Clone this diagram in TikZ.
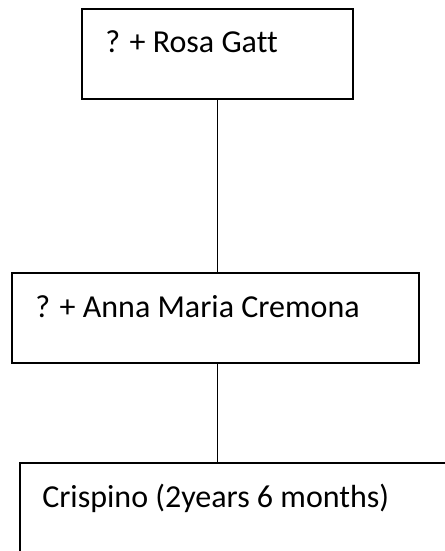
\documentclass[tikz,border=0pt]{standalone}
\usepackage{fontspec}
\setmainfont[Ligatures=NoCommon]{Carlito}
\usetikzlibrary{positioning}

\begin{document}
\begin{tikzpicture}[x=0.75pt,y=-0.75pt,
		famBox/.style={draw,line width=1.3pt,rectangle,minimum height=67.5pt,inner sep=0pt},
		famText/.style={anchor=base west,inner sep=0pt,font=\fontsize{24}{29}\selectfont}]
			\useasboundingbox (0,0) rectangle (445,551);
			\clip (0,0) rectangle (445,551);
			\node[famBox,minimum width=203.25pt] (rosa)		at (217.5,54)	{};
			\node[famBox,minimum width=305.25pt] (anna)		at (215.5,318)	{};
			\node[famBox,minimum width=330pt,minimum height=75pt] (crispino) at (240,513) {};
			\node[famText] (rosaTxt)	at (105,52)		{? + Rosa Gatt};
			\node[famText] (annaTxt)	at (35,317)		{? + Anna Maria Cremona};
			\node[famText] (crispTxt)	at (42,507)		{Crispino (2years 6 months)};
			\path[draw,line width=1.3pt]
				(rosa.south) -- (rosa.south |- anna.north)
				(rosa.south |- anna.south) -- (rosa.south |- crispino.north);
		\end{tikzpicture}
\end{document}
